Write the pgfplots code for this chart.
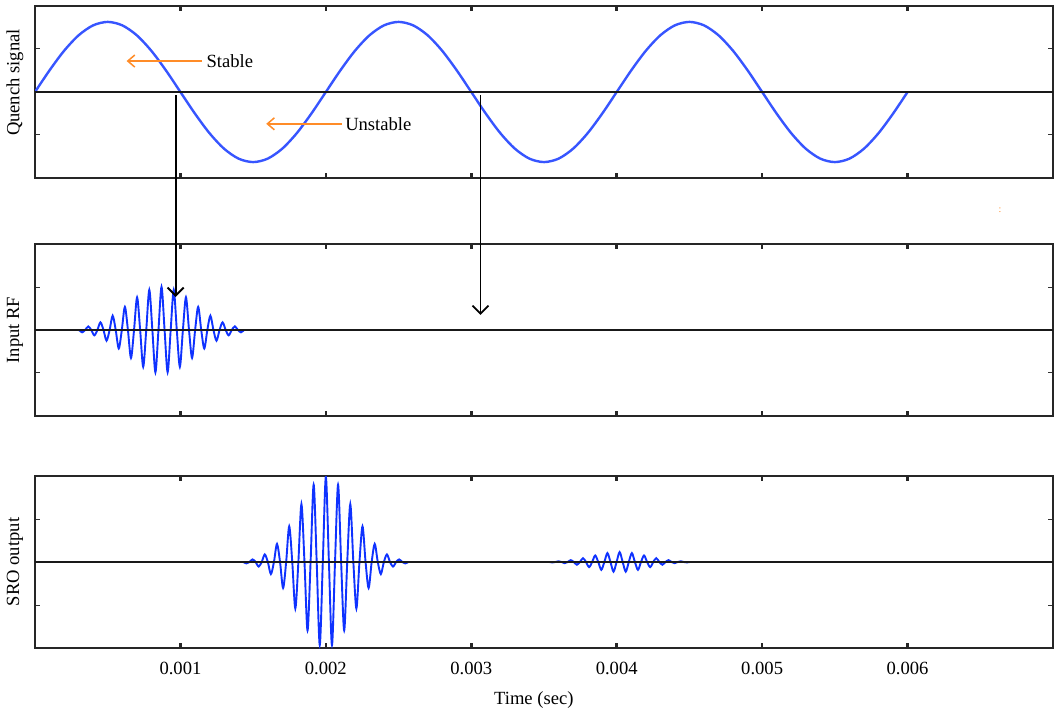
\documentclass[border=0pt]{standalone}
\usepackage{pgfplots}
\pgfplotsset{compat=1.18}
\usepackage{fontspec}
\setmainfont{Liberation Serif}
\usetikzlibrary{arrows.meta}

\definecolor{qblue}{RGB}{55,85,255}
\definecolor{bblue}{RGB}{15,50,255}
\definecolor{lborange}{RGB}{255,140,40}

\pgfplotsset{
  panel/.style={
    scale only axis, width=509pt, height=86pt,
    xmin=0, xmax=0.007, ymin=-2, ymax=2,
    xtick={0.001,0.002,0.003,0.004,0.005,0.006},
    xticklabels={},
    ytick={-1,0,1}, yticklabels={},
    tick align=inside, tick pos=both,
    scaled x ticks=false,
    axis line style={line width=0.9pt, black!85},
    major tick length=2.5pt,
    x tick style={line width=1.3pt, black!85},
    y tick style={line width=0.5pt, black!80},
    font=\fontsize{9.3}{11}\selectfont,
    ylabel style={at={(axis description cs:-0.0196,0.5)}, anchor=center},
  },
  zeroline/.style={black!90, line width=0.8pt},
  burst/.style={bblue, line width=0.95pt, smooth},
}

\begin{document}
\begin{tikzpicture}

% ---------------- quench signal ----------------
\begin{axis}[panel, at={(17.5pt,267.5pt)}, anchor=south west,
  ylabel={Quench signal},
  ylabel style={at={(axis description cs:-0.0196,0.555)}}]
\addplot[qblue, line width=1.2pt, smooth] coordinates {
  (0.0000,0) (0.0001,0.5037) (0.0002,0.9581) (0.0003,1.3187) (0.0004,1.5502)
  (0.0005,1.63) (0.0006,1.5502) (0.0007,1.3187) (0.0008,0.9581) (0.0009,0.5037)
  (0.0010,0) (0.0011,-0.5037) (0.0012,-0.9581) (0.0013,-1.3187) (0.0014,-1.5502)
  (0.0015,-1.63) (0.0016,-1.5502) (0.0017,-1.3187) (0.0018,-0.9581) (0.0019,-0.5037)
  (0.0020,0) (0.0021,0.5037) (0.0022,0.9581) (0.0023,1.3187) (0.0024,1.5502)
  (0.0025,1.63) (0.0026,1.5502) (0.0027,1.3187) (0.0028,0.9581) (0.0029,0.5037)
  (0.0030,0) (0.0031,-0.5037) (0.0032,-0.9581) (0.0033,-1.3187) (0.0034,-1.5502)
  (0.0035,-1.63) (0.0036,-1.5502) (0.0037,-1.3187) (0.0038,-0.9581) (0.0039,-0.5037)
  (0.0040,0) (0.0041,0.5037) (0.0042,0.9581) (0.0043,1.3187) (0.0044,1.5502)
  (0.0045,1.63) (0.0046,1.5502) (0.0047,1.3187) (0.0048,0.9581) (0.0049,0.5037)
  (0.0050,0) (0.0051,-0.5037) (0.0052,-0.9581) (0.0053,-1.3187) (0.0054,-1.5502)
  (0.0055,-1.63) (0.0056,-1.5502) (0.0057,-1.3187) (0.0058,-0.9581) (0.0059,-0.5037)
  (0.0060,0)
};
\addplot[zeroline] coordinates {(0,0) (0.007,0)};
\draw[lborange, line width=0.75pt, -{Straight Barb[length=3.5pt,width=6pt]}]
  (axis cs:0.00115,0.72) -- (axis cs:0.00063,0.72);
\node[anchor=west, inner sep=2pt] at (axis cs:0.00115,0.72) {Stable};
\draw[lborange, line width=0.75pt, -{Straight Barb[length=3.5pt,width=6pt]}]
  (axis cs:0.00211,-0.74) -- (axis cs:0.00159,-0.74);
\node[anchor=west, inner sep=1.5pt] at (axis cs:0.00211,-0.74) {Unstable};
\coordinate (a1) at (axis cs:0.000967,-0.08);
\coordinate (b1) at (axis cs:0.003063,-0.08);
\end{axis}

% ---------------- input RF ----------------
\begin{axis}[panel, at={(17.5pt,148.5pt)}, anchor=south west,
  ylabel={Input RF}]
\addplot[burst] coordinates {
  (0.000303,0) (0.000324,-0.0544) (0.000345,0) (0.000366,0.0837)
  (0.000387,0) (0.000408,-0.1244) (0.000429,0) (0.000450,0.1786)
  (0.000471,0) (0.000492,-0.2478) (0.000513,0) (0.000534,0.3321)
  (0.000555,0) (0.000576,-0.4300) (0.000597,0) (0.000618,0.5379)
  (0.000639,0) (0.000660,-0.6501) (0.000681,0) (0.000702,0.7591)
  (0.000723,0) (0.000744,-0.8564) (0.000765,0) (0.000786,0.9334)
  (0.000807,0) (0.000828,-0.9829) (0.000849,0) (0.000870,1.0)
  (0.000891,0) (0.000912,-0.9829) (0.000933,0) (0.000954,0.9334)
  (0.000975,0) (0.000996,-0.8564) (0.001017,0) (0.001038,0.7591)
  (0.001059,0) (0.001080,-0.6501) (0.001101,0) (0.001122,0.5379)
  (0.001143,0) (0.001164,-0.4300) (0.001185,0) (0.001206,0.3321)
  (0.001227,0) (0.001248,-0.2478) (0.001269,0) (0.001290,0.1786)
  (0.001311,0) (0.001332,-0.1244) (0.001353,0) (0.001374,0.0837)
  (0.001395,0) (0.001416,-0.0544) (0.001437,0)
};
\addplot[zeroline] coordinates {(0,0) (0.007,0)};
\coordinate (a2) at (axis cs:0.000967,0.77);
\coordinate (b2) at (axis cs:0.003063,0.35);
\end{axis}

% ---------------- SRO output ----------------
\begin{axis}[panel, at={(17.5pt,32.5pt)}, anchor=south west,
  ylabel={SRO output},
  xticklabels={0.001,0.002,0.003,0.004,0.005,0.006},
  xticklabel style={yshift=-3.3pt},
  xlabel={Time (sec)},
  xlabel style={at={(axis description cs:0.49,-0.302)}, anchor=center}]
\addplot[burst] coordinates {
  (0.001433,0) (0.001454,-0.0332) (0.001475,0) (0.001496,0.0607)
  (0.001517,0) (0.001538,-0.1060) (0.001559,0) (0.001580,0.1761)
  (0.001601,0) (0.001622,-0.2789) (0.001643,0) (0.001664,0.4208)
  (0.001685,0) (0.001706,-0.6050) (0.001727,0) (0.001748,0.8286)
  (0.001769,0) (0.001790,-1.0813) (0.001811,0) (0.001832,1.3444)
  (0.001853,0) (0.001874,-1.5925) (0.001895,0) (0.001916,1.7974)
  (0.001937,0) (0.001958,-1.9327) (0.001979,0) (0.002000,1.98)
  (0.002021,0) (0.002042,-1.9327) (0.002063,0) (0.002084,1.7974)
  (0.002105,0) (0.002126,-1.5925) (0.002147,0) (0.002168,1.3444)
  (0.002189,0) (0.002210,-1.0813) (0.002231,0) (0.002252,0.8286)
  (0.002273,0) (0.002294,-0.6050) (0.002315,0) (0.002336,0.4208)
  (0.002357,0) (0.002378,-0.2789) (0.002399,0) (0.002420,0.1761)
  (0.002441,0) (0.002462,-0.1060) (0.002483,0) (0.002504,0.0607)
  (0.002525,0) (0.002546,-0.0332) (0.002567,0)
};
\addplot[burst] coordinates {
  (0.003537,0) (0.003558,-0.0098) (0.003579,0) (0.003600,0.0169)
  (0.003621,0) (0.003642,-0.0278) (0.003663,0) (0.003684,0.0433)
  (0.003705,0) (0.003726,-0.0640) (0.003747,0) (0.003768,0.0899)
  (0.003789,0) (0.003810,-0.1198) (0.003831,0) (0.003852,0.1515)
  (0.003873,0) (0.003894,-0.1819) (0.003915,0) (0.003936,0.2072)
  (0.003957,0) (0.003978,-0.2241) (0.003999,0) (0.004020,0.23)
  (0.004041,0) (0.004062,-0.2241) (0.004083,0) (0.004104,0.2072)
  (0.004125,0) (0.004146,-0.1819) (0.004167,0) (0.004188,0.1515)
  (0.004209,0) (0.004230,-0.1198) (0.004251,0) (0.004272,0.0899)
  (0.004293,0) (0.004314,-0.0640) (0.004335,0) (0.004356,0.0433)
  (0.004377,0) (0.004398,-0.0278) (0.004419,0) (0.004440,0.0169)
  (0.004461,0) (0.004482,-0.0098) (0.004503,0)
};
\addplot[zeroline] coordinates {(0,0) (0.007,0)};
\end{axis}

% arrows from the quench zero crossings down to the input RF panel
\draw[black, line width=0.9pt, -{Straight Barb[length=4pt,width=8pt]}] (a1) -- (a2);
\draw[black, line width=0.9pt, -{Straight Barb[length=4pt,width=8pt]}] (b1) -- (b2);

% stray orange mark at the right of the figure
\node[lborange, font=\fontsize{5}{6}\selectfont, inner sep=0pt] at (500pt,251.5pt) {:};

\pgfresetboundingbox
\path (0,0) rectangle (527.5pt,356.5pt);
\end{tikzpicture}
\end{document}
